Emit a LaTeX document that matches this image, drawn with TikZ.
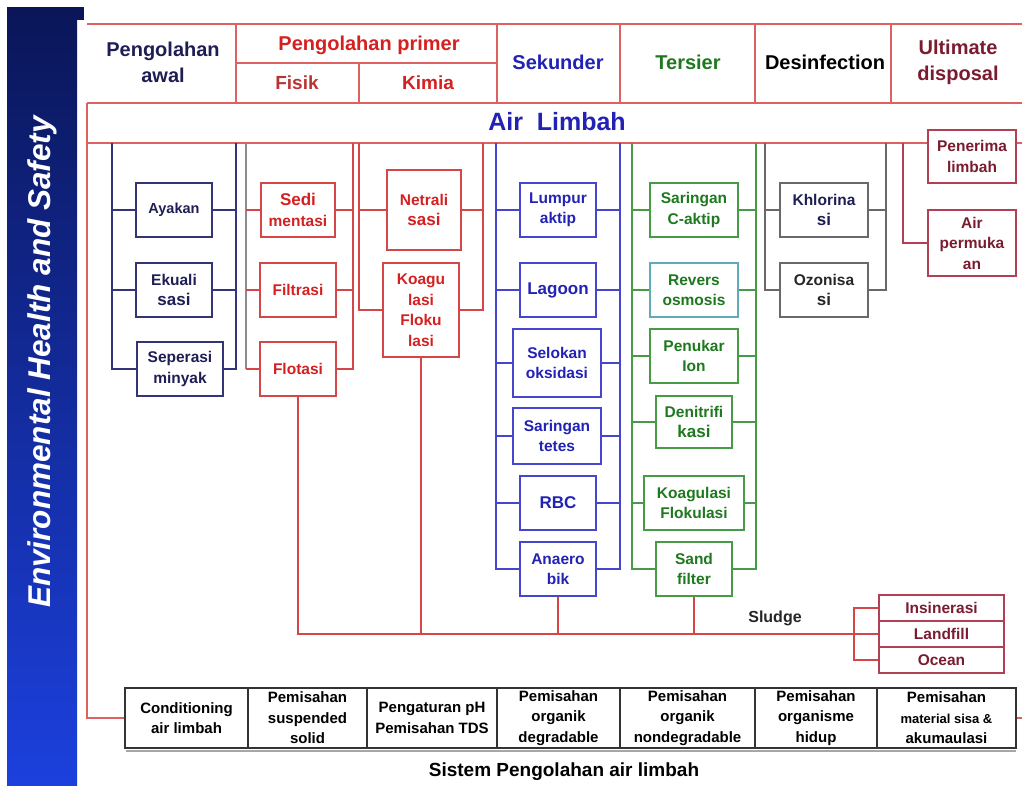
\documentclass[tikz,border=0pt]{standalone}
\usepackage{fontspec}
\setmainfont{Liberation Sans}
\definecolor{sidetop}{RGB}{10,22,88}
\definecolor{sidemid}{RGB}{22,52,190}
\definecolor{sidebot}{RGB}{28,64,222}
\definecolor{hdrline}{RGB}{222,96,96}
\definecolor{awalc}{RGB}{52,52,120}
\definecolor{awaltxt}{RGB}{30,30,84}
\definecolor{primc}{RGB}{214,70,70}
\definecolor{primtxt}{RGB}{212,32,32}
\definecolor{fisiktxt}{RGB}{186,52,52}
\definecolor{sekc}{RGB}{70,70,205}
\definecolor{sektxt}{RGB}{34,34,180}
\definecolor{tersc}{RGB}{70,155,70}
\definecolor{terstxt}{RGB}{30,120,30}
\definecolor{revc}{RGB}{96,172,182}
\definecolor{desc}{RGB}{105,105,105}
\definecolor{ultc}{RGB}{176,64,84}
\definecolor{ulttxt}{RGB}{122,28,48}
\begin{document}
\begin{tikzpicture}[x=1pt, y=-1pt,
    stage/.style={draw, fill=white, line width=1.8pt, inner sep=0pt, align=center, font=\fontsize{15.5}{20.5}\selectfont\bfseries},
    awalbox/.style={stage, draw=awalc, text=awaltxt},
    primbox/.style={stage, draw=primc, text=primtxt},
    sekbox/.style={stage, draw=sekc, text=sektxt},
    tersbox/.style={stage, draw=tersc, text=terstxt},
    desbox/.style={stage, draw=desc, text=black!85},
    ultbox/.style={stage, draw=ultc, text=ulttxt},
    task/.style={draw=black!80, line width=1.5pt, inner sep=0pt, align=center, minimum height=60pt, font=\fontsize{15}{20.5}\selectfont\bfseries},
    hdr/.style={align=center, font=\fontsize{20}{26}\selectfont\bfseries},
    tline/.style={hdrline, line width=2pt},
    awalline/.style={awalc, line width=1.8pt},
    primline/.style={primc, line width=1.8pt},
    sekline/.style={sekc, line width=1.8pt},
    tersline/.style={tersc, line width=1.8pt},
    desline/.style={desc, line width=1.8pt},
    ultline/.style={ultc, line width=1.8pt}]
\useasboundingbox (0,0) rectangle (1022,785);
% side bar
\shade[top color=sidetop, middle color=sidemid, bottom color=sidebot] (7,7) rectangle (77,785);
\fill[sidetop] (77,7) rectangle (84,20);
\node[rotate=90, text=white, font=\fontsize{31.5}{31.5}\selectfont\bfseries\itshape] (ehs) at (42,362) {Environmental Health and Safety};

% header table
\draw[tline] (87,24) -- (1022,24) (87,103) -- (1022,103) (87,143) -- (1022,143)
  (236,24) -- (236,103) (497,24) -- (497,103) (620,24) -- (620,103) (755,24) -- (755,103) (891,24) -- (891,103)
  (236,63) -- (497,63) (359,63) -- (359,103);
\node[hdr, text=awaltxt] (awal) at (163,62) {Pengolahan\\awal};
\node[hdr, text=primtxt] (primer) at (369,45) {Pengolahan primer};
\node[hdr, text=fisiktxt, font=\fontsize{19}{19}\selectfont\bfseries] (fisik) at (297,83) {Fisik};
\node[hdr, text=primtxt, font=\fontsize{19}{19}\selectfont\bfseries] (kimia) at (428,83) {Kimia};
\node[hdr, text=sektxt] (sekunder) at (558,62) {Sekunder};
\node[hdr, text=terstxt] (tersier) at (688,62) {Tersier};
\node[hdr, text=black] (desinf) at (825,62) {Desinfection};
\node[hdr, text=ulttxt] (ultimate) at (958,62) {Ultimate\\disposal};
\node[hdr, text=sektxt, font=\fontsize{25}{25}\selectfont\bfseries] (airlimbah) at (557,122) {Air~~Limbah};

% Pengolahan awal
\node[awalbox, minimum width=76pt, minimum height=54pt, font=\fontsize{14.5}{20}\selectfont\bfseries] (ayakan) at (174,210) {Ayakan};
\node[awalbox, minimum width=76pt, minimum height=54pt] (ekualisasi) at (174,290) {Ekuali\\{\fontsize{17}{20.5}\selectfont sasi}};
\node[awalbox, minimum width=86pt, minimum height=54pt] (seperasi) at (180,369) {Seperasi\\minyak};
\coordinate (awalL) at (112,143); \coordinate (awalR) at (236,143);
\draw[awalline] (awalL) |- (seperasi.west) (awalR) |- (seperasi.east)
  (ayakan.west) -- (ayakan.west -| awalL) (ayakan.east) -- (ayakan.east -| awalR)
  (ekualisasi.west) -- (ekualisasi.west -| awalL) (ekualisasi.east) -- (ekualisasi.east -| awalR);

% Pengolahan primer: fisik
\node[primbox, minimum width=74pt, minimum height=54pt] (sedimentasi) at (298,210) {{\fontsize{17}{20.5}\selectfont Sedi}\\mentasi};
\node[primbox, minimum width=76pt, minimum height=54pt] (filtrasi) at (298,290) {Filtrasi};
\node[primbox, minimum width=76pt, minimum height=54pt] (flotasi) at (298,369) {Flotasi};
\coordinate (fisikL) at (246,143); \coordinate (fisikR) at (353,143);
\draw[desline, black!45] (fisikL) -- (fisikL |- flotasi.west);
\draw[primline] (fisikR) |- (flotasi.east) (flotasi.west) -- (flotasi.west -| fisikL)
  (sedimentasi.west) -- (sedimentasi.west -| fisikL) (sedimentasi.east) -- (sedimentasi.east -| fisikR)
  (filtrasi.west) -- (filtrasi.west -| fisikL) (filtrasi.east) -- (filtrasi.east -| fisikR);

% Pengolahan primer: kimia
\node[primbox, minimum width=74pt, minimum height=80pt] (netralisasi) at (424,210) {Netrali\\{\fontsize{17}{20.5}\selectfont sasi}};
\node[primbox, minimum width=76pt, minimum height=94pt] (koagulasi) at (421,310) {Koagu\\lasi\\Floku\\lasi};
\coordinate (kimiaL) at (359,143); \coordinate (kimiaR) at (483,143);
\draw[primline] (kimiaL) |- (koagulasi.west) (kimiaR) |- (koagulasi.east)
  (netralisasi.west) -- (netralisasi.west -| kimiaL) (netralisasi.east) -- (netralisasi.east -| kimiaR);

% Sekunder
\node[sekbox, minimum width=76pt, minimum height=54pt] (lumpur) at (558,210) {Lumpur\\aktip};
\node[sekbox, minimum width=76pt, minimum height=54pt, font=\fontsize{17}{20.5}\selectfont\bfseries] (lagoon) at (558,290) {Lagoon};
\node[sekbox, minimum width=88pt, minimum height=68pt] (selokan) at (557,363) {Selokan\\oksidasi};
\node[sekbox, minimum width=88pt, minimum height=56pt] (tetes) at (557,436) {Saringan\\tetes};
\node[sekbox, minimum width=76pt, minimum height=54pt, font=\fontsize{17}{20.5}\selectfont\bfseries] (rbc) at (558,503) {RBC};
\node[sekbox, minimum width=76pt, minimum height=54pt] (anaerobik) at (558,569) {Anaero\\bik};
\coordinate (sekL) at (496,143); \coordinate (sekR) at (620,143);
\draw[sekline] (sekL) |- (anaerobik.west) (sekR) |- (anaerobik.east)
  (lumpur.west) -- (lumpur.west -| sekL) (lumpur.east) -- (lumpur.east -| sekR)
  (lagoon.west) -- (lagoon.west -| sekL) (lagoon.east) -- (lagoon.east -| sekR)
  (selokan.west) -- (selokan.west -| sekL) (selokan.east) -- (selokan.east -| sekR)
  (tetes.west) -- (tetes.west -| sekL) (tetes.east) -- (tetes.east -| sekR)
  (rbc.west) -- (rbc.west -| sekL) (rbc.east) -- (rbc.east -| sekR);

% Tersier
\node[tersbox, minimum width=88pt, minimum height=54pt] (caktip) at (694,210) {Saringan\\C-aktip};
\node[tersbox, draw=revc, minimum width=88pt, minimum height=54pt] (revers) at (694,290) {Revers\\osmosis};
\node[tersbox, minimum width=88pt, minimum height=54pt] (penukar) at (694,356) {Penukar\\Ion};
\node[tersbox, minimum width=76pt, minimum height=52pt] (denitrifikasi) at (694,422) {Denitrifi\\{\fontsize{17}{20.5}\selectfont kasi}};
\node[tersbox, minimum width=100pt, minimum height=54pt] (koaflok) at (694,503) {Koagulasi\\Flokulasi};
\node[tersbox, minimum width=76pt, minimum height=54pt] (sandfilter) at (694,569) {Sand\\filter};
\coordinate (tersL) at (632,143); \coordinate (tersR) at (756,143);
\draw[tersline] (tersL) |- (sandfilter.west) (tersR) |- (sandfilter.east)
  (caktip.west) -- (caktip.west -| tersL) (caktip.east) -- (caktip.east -| tersR)
  (revers.west) -- (revers.west -| tersL) (revers.east) -- (revers.east -| tersR)
  (penukar.west) -- (penukar.west -| tersL) (penukar.east) -- (penukar.east -| tersR)
  (denitrifikasi.west) -- (denitrifikasi.west -| tersL) (denitrifikasi.east) -- (denitrifikasi.east -| tersR)
  (koaflok.west) -- (koaflok.west -| tersL) (koaflok.east) -- (koaflok.east -| tersR);

% Desinfection
\node[desbox, text=awaltxt, minimum width=88pt, minimum height=54pt] (khlorinasi) at (824,210) {Khlorina\\{\fontsize{17}{20.5}\selectfont si}};
\node[desbox, minimum width=88pt, minimum height=54pt] (ozonisasi) at (824,290) {Ozonisa\\{\fontsize{17}{20.5}\selectfont si}};
\coordinate (desL) at (765,143); \coordinate (desR) at (886,143);
\draw[desline] (desL) |- (ozonisasi.west) (desR) |- (ozonisasi.east)
  (khlorinasi.west) -- (khlorinasi.west -| desL) (khlorinasi.east) -- (khlorinasi.east -| desR);

% Ultimate disposal
\node[ultbox, minimum width=88pt, minimum height=53pt] (penerima) at (972,156.5) {Penerima\\limbah};
\node[ultbox, minimum width=88pt, minimum height=66pt] (permukaan) at (972,243) {Air\\permuka\\an};
\coordinate (ultL) at (903,143);
\draw[ultline] (ultL) |- (permukaan.west);

% sludge
\node[ultbox, minimum width=125pt, minimum height=26pt] (insinerasi) at (941.5,608) {Insinerasi};
\node[ultbox, minimum width=125pt, minimum height=26pt] (landfill) at (941.5,634) {Landfill};
\node[ultbox, minimum width=125pt, minimum height=26pt] (ocean) at (941.5,660) {Ocean};
\draw[primline] (flotasi.south) |- (landfill.west)
  (koagulasi.south) -- (koagulasi.south |- landfill.west)
  (anaerobik.south) -- (anaerobik.south |- landfill.west)
  (sandfilter.south) -- (sandfilter.south |- landfill.west)
  (insinerasi.west) -- ++(-24,0) |- (ocean.west);
\node[font=\fontsize{16}{16}\selectfont\bfseries, text=black!85] (sludge) at (775,618) {Sludge};

% bottom row
\draw[black!35, line width=1.5pt] (126,751) -- (1016,751);
\node[task, minimum width=123pt] (conditioning) at (186.5,718) {Conditioning\\air limbah};
\node[task, minimum width=119pt] (suspended) at (307.5,718) {Pemisahan\\suspended\\solid};
\node[task, minimum width=130pt] (tds) at (432,718) {Pengaturan pH\\Pemisahan TDS};
\node[task, minimum width=123pt] (degradable) at (558.5,718) {Pemisahan\\organik\\degradable};
\node[task, minimum width=135pt] (nondegradable) at (687.5,718) {Pemisahan\\organik\\nondegradable};
\node[task, minimum width=122pt] (organisme) at (816,718) {Pemisahan\\organisme\\hidup};
\node[task, minimum width=139pt] (akumulasi) at (946.5,718) {Pemisahan\\{\fontsize{13}{20.5}\selectfont material sisa \&}\\akumaulasi};
\coordinate (eastend) at (1022,718);
\draw[tline] (87,103) |- (conditioning.west) (akumulasi.east) -- (eastend);
\node[font=\fontsize{19}{19}\selectfont\bfseries] (sistem) at (564,772) {Sistem Pengolahan air limbah};
\end{tikzpicture}
\end{document}
